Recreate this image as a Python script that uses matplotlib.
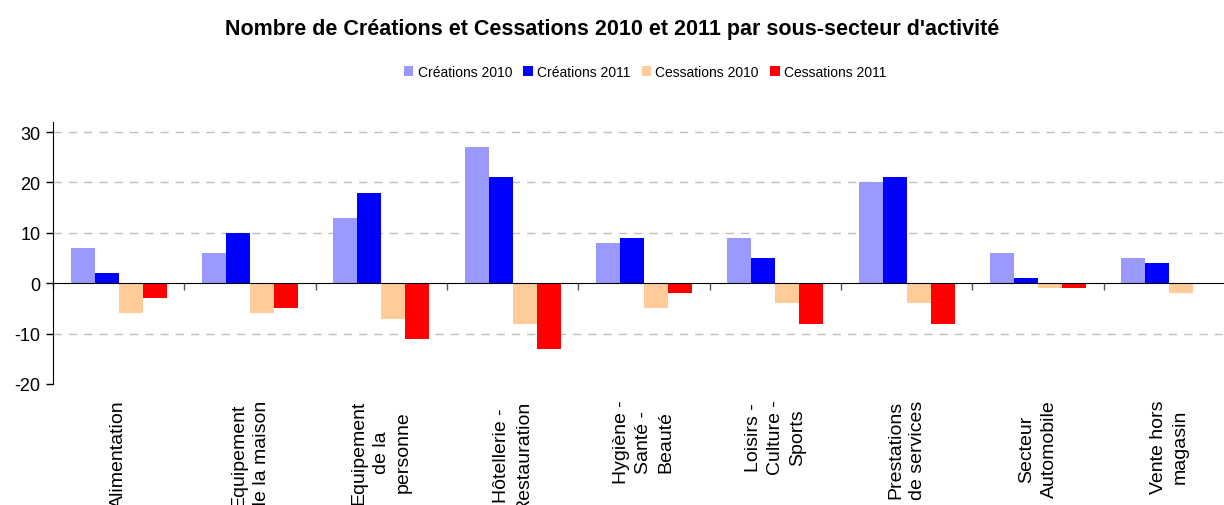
import matplotlib.pyplot as plt
import numpy as np

plt.rcParams['font.family'] = ['Liberation Sans', 'DejaVu Sans']
plt.rcParams['axes.unicode_minus'] = False

categories = ['Alimentation', 'Equipement\nde la maison', 'Equipement\nde la\npersonne',
              'Hôtellerie -\nRestauration', 'Hygiène -\nSanté -\nBeauté',
              'Loisirs -\nCulture -\nSports', 'Prestations\nde services',
              'Secteur\nAutomobile', 'Vente hors\nmagasin']
creations_2010 = [7, 6, 13, 27, 8, 9, 20, 6, 5]
creations_2011 = [2, 10, 18, 21, 9, 5, 21, 1, 4]
cessations_2010 = [-6, -6, -7, -8, -5, -4, -4, -1, -2]
cessations_2011 = [-3, -5, -11, -13, -2, -8, -8, -1, 0]

series = [('Créations 2010', creations_2010, '#9999FF'),
          ('Créations 2011', creations_2011, '#0000FF'),
          ('Cessations 2010', cessations_2010, '#FFCC99'),
          ('Cessations 2011', cessations_2011, '#FF0000')]

fig = plt.figure(figsize=(12.24, 5.06), dpi=100)
# axes run slightly past the right edge, as in the original
ax = fig.add_axes([53/1224, 121/506, 1182/1224, 262/506])

x = np.arange(len(categories))
w = 0.183
for i, (name, vals, col) in enumerate(series):
    ax.bar(x + (i - 1.5)*w, vals, w, color=col, label=name, zorder=3)

ax.set_xlim(-0.5, len(categories) - 0.5)
ax.set_ylim(-20, 32)
yt = np.arange(-20, 31, 10)
ax.set_yticks(yt)
ax.tick_params(axis='y', direction='out', length=5, width=1, labelsize=13, pad=4)
for v in yt:
    if v not in (0, -20):
        ax.axhline(v, color='#c0c0c0', lw=1, ls=(0, (6, 5)), zorder=1)

ax.spines['top'].set_visible(False)
ax.spines['right'].set_visible(False)
ax.spines['bottom'].set_position(('data', 0))
ax.spines['bottom'].set_zorder(4)
ax.set_xticks(np.arange(-0.5, len(categories), 1))
ax.set_xticklabels([])
ax.tick_params(axis='x', direction='out', length=5, width=1, color='#555555')

for i, lab in enumerate(categories):
    ax.annotate(lab, xy=(i, 0), xycoords=('data', 'axes fraction'),
                xytext=(0, -11), textcoords='offset points',
                rotation=90, ha='center', va='top', multialignment='center',
                fontsize=14, linespacing=1.4)

fig.text(0.5, 1 - 30/506, "Nombre de Créations et Cessations 2010 et 2011 par sous-secteur d'activité",
         ha='center', va='center', fontsize=15.5, fontweight='bold')
fig.legend(loc='center', bbox_to_anchor=(645/1224, 1 - 73/506), ncol=4, frameon=False,
           fontsize=10, handlelength=0.7, handleheight=0.7, handletextpad=0.3,
           columnspacing=0.8)

plt.savefig('out.png', dpi=100)
